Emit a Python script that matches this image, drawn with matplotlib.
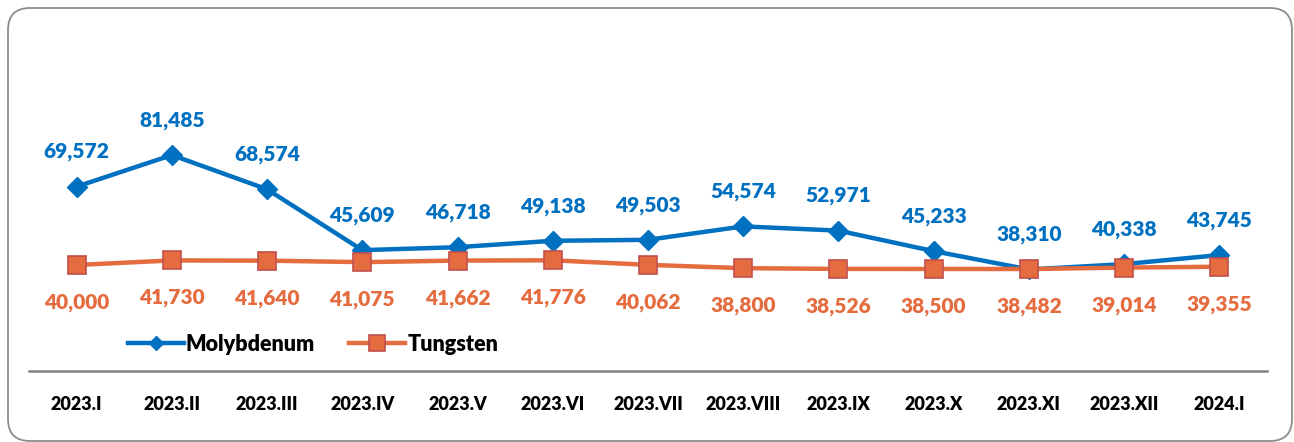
import matplotlib.pyplot as plt
from matplotlib.patches import FancyBboxPatch
from matplotlib.lines import Line2D
from matplotlib.transforms import IdentityTransform

periods = ["2023.I", "2023.II", "2023.III", "2023.IV", "2023.V", "2023.VI", "2023.VII",
           "2023.VIII", "2023.IX", "2023.X", "2023.XI", "2023.XII", "2024.I"]
molybdenum = [69572, 81485, 68574, 45609, 46718, 49138, 49503, 54574, 52971, 45233, 38310, 40338, 43745]
tungsten = [40000, 41730, 41640, 41075, 41662, 41776, 40062, 38800, 38526, 38500, 38482, 39014, 39355]

blue = "#0070C0"
orange = "#E46C3E"
font = ["Lato", "DejaVu Sans"]
weight = "heavy"

W, H = 1294, 442
fig = plt.figure(figsize=(W / 100, H / 100), dpi=100)

# rounded frame around the chart (pixel coordinates)
frame = FancyBboxPatch((8, 1), 1284, 433,
                       boxstyle="round,pad=0,rounding_size=22",
                       transform=IdentityTransform(), fill=False,
                       edgecolor="#8C8C8C", linewidth=1.3)
fig.patches.append(frame)

ax = fig.add_axes([29 / W, (H - 371) / H, 1238 / W, 265 / H])
x = list(range(len(periods)))

ax.plot(x, molybdenum, color=blue, lw=3.2, marker="D", ms=10, mfc=blue, mec=blue, zorder=3)
ax.plot(x, tungsten, color=orange, lw=3.2, marker="s", ms=13, mfc=orange, mec="#C0504D",
        mew=1.2, zorder=4)

for xi, v in zip(x, molybdenum):
    ax.annotate(f"{v:,}", (xi, v), xytext=(0, 25), textcoords="offset points",
                ha="center", va="center", color=blue, fontsize=15, fontweight=weight,
                family=font)
for xi, v in zip(x, tungsten):
    ax.annotate(f"{v:,}", (xi, v), xytext=(0, -27), textcoords="offset points",
                ha="center", va="center", color=orange, fontsize=15, fontweight=weight,
                family=font)

ax.set_xlim(-0.5, len(periods) - 0.5)
ax.set_ylim(0, 100000)
ax.set_xticks(x)
ax.set_xticklabels(periods, fontsize=13, fontweight=weight, family=font)
ax.tick_params(axis="x", length=0, pad=18)
ax.set_yticks([])
for side in ["top", "left", "right"]:
    ax.spines[side].set_visible(False)
ax.spines["bottom"].set_color("#808080")
ax.spines["bottom"].set_linewidth(1.8)

handles = [
    Line2D([], [], color=blue, lw=3.2, marker="D", ms=7, mfc=blue, mec=blue),
    Line2D([], [], color=orange, lw=3.2, marker="s", ms=11, mfc=orange, mec="#C0504D", mew=1.2),
]
ax.legend(handles, ["Molybdenum", "Tungsten"], loc="lower left",
          bbox_to_anchor=(0.064, -0.012), ncol=2, frameon=False,
          prop={"family": font, "weight": weight, "size": 15.5},
          handlelength=2.6, handletextpad=0.1, columnspacing=1.6)

fig.savefig("out.png", dpi=100)
